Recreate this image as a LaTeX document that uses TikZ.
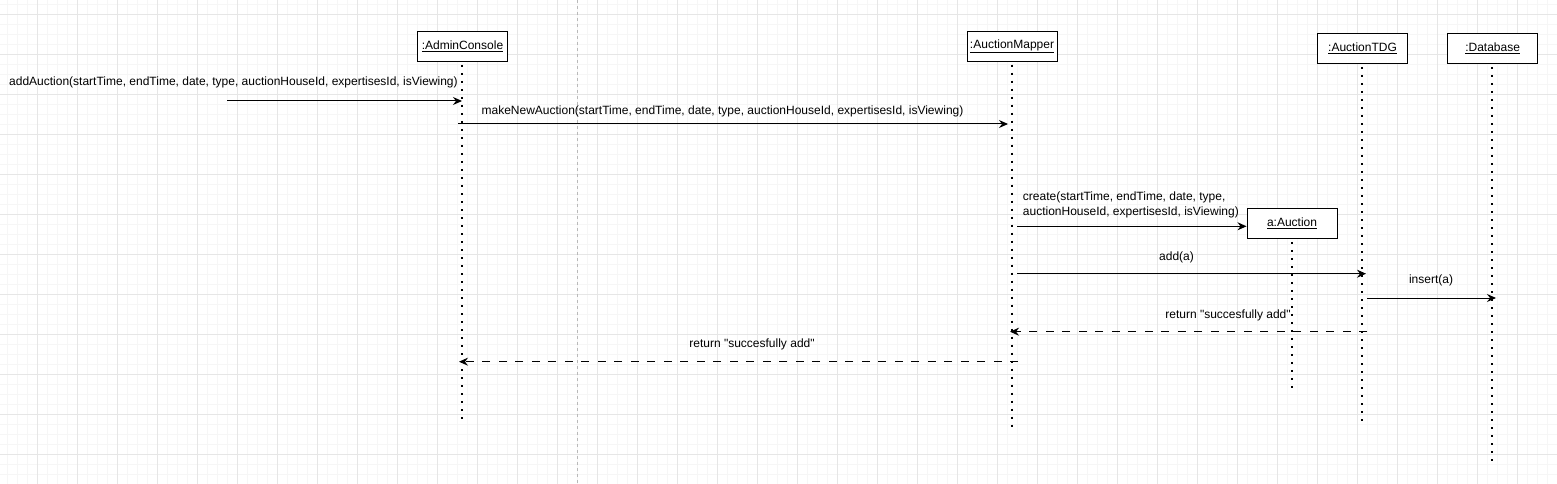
\documentclass[tikz,border=0pt]{standalone}
\usepackage{fontspec}
\setmainfont{Liberation Sans}[Ligatures=TeXOff]
\usetikzlibrary{arrows.meta}
\definecolor{gridminor}{RGB}{246,246,246}
\definecolor{gridmajor}{RGB}{230,230,230}
\begin{document}
\begin{tikzpicture}[x=1bp,y=-1bp,
  every node/.style={font=\fontsize{12bp}{15bp}\selectfont, inner sep=0pt},
  objbox/.style={draw=black, fill=white, line width=1bp, minimum width=90bp, minimum height=30bp},
  lifeline/.style={line width=2bp, dash pattern=on 2bp off 6bp},
  msg/.style={draw=black, line width=1bp, -{Stealth[length=9bp,width=8bp,inset=3bp]}},
  ret/.style={msg, dash pattern=on 8bp off 8.5bp},
  lbl/.style={text=black}
]
\useasboundingbox (0,0) rectangle (1557,484);
\fill[white] (0,0) rectangle (1557,484);
% grid
\foreach \x in {7.5,17.5,...,1557} \draw[gridminor, line width=0.8bp] (\x,0) -- (\x,484);
\foreach \y in {4.3,14.3,...,484} \draw[gridminor, line width=0.8bp] (0,\y) -- (1557,\y);
\foreach \x in {37.5,77.5,...,1557} \draw[gridmajor, line width=0.8bp] (\x,0) -- (\x,484);
\foreach \y in {14.3,54.3,...,484} \draw[gridmajor, line width=0.8bp] (0,\y) -- (1557,\y);
% page break line
\draw[gray!55, line width=0.8bp, dash pattern=on 3bp off 3bp] (577.4,0) -- (577.4,484);

% objects
\node[objbox] (admin) at (462.5,46.5) {\underline{:AdminConsole}};
\node[objbox] (mapper) at (1012,46.2) {\underline{:AuctionMapper}};
\node[objbox] (tdg) at (1362.5,48.5) {\underline{:AuctionTDG}};
\node[objbox] (db) at (1492.6,48.5) {\underline{:Database}};
\node[objbox] (auction) at (1292,223.3) {\underline{a:Auction}};

% lifeline ends
\coordinate (adminEnd) at (462.3,421);
\coordinate (mapperEnd) at (1012,431);
\coordinate (tdgEnd) at (1362,421);
\coordinate (dbEnd) at (1492,465);
\coordinate (auctionEnd) at (1292,391);
\draw[lifeline] ([yshift=-3bp]admin.south -| adminEnd) -- (adminEnd);
\draw[lifeline] ([yshift=-3bp]mapper.south -| mapperEnd) -- (mapperEnd);
\draw[lifeline] ([yshift=-3bp]tdg.south -| tdgEnd) -- (tdgEnd);
\draw[lifeline] ([yshift=-3bp]db.south -| dbEnd) -- (dbEnd);
\draw[lifeline] ([yshift=-3bp]auction.south -| auctionEnd) -- (auctionEnd);

% message endpoints
\coordinate (m1a) at (227,101);   \coordinate (m1b) at (462,101);
\coordinate (m2a) at (458,124);   \coordinate (m2b) at (1008,124);
\coordinate (m3a) at (1017,226.3);
\coordinate (m4a) at (1017,273.7); \coordinate (m4b) at (1366,273.7);
\coordinate (m5a) at (1367,298);  \coordinate (m5b) at (1496,298);
\coordinate (m6a) at (1367,331.7); \coordinate (m6b) at (1010,331.7);
\coordinate (m7a) at (1018,361.7); \coordinate (m7b) at (459,361.7);

\draw[msg] (m1a) -- (m1b);
\draw[msg] (m2a) -- (m2b);
\draw[msg] (m3a) -- (auction.west |- m3a);
\draw[msg] (m4a) -- (m4b);
\draw[msg] (m5a) -- (m5b);
\draw[ret] (m6a) -- (m6b);
\draw[ret] (m7a) -- (m7b);

% labels
\node[lbl, anchor=west] (l1) at (9,82.7) {addAuction(startTime, endTime, date, type, auctionHouseId, expertisesId, isViewing)};
\node[lbl, anchor=west] (l2) at (481.4,111.7) {makeNewAuction(startTime, endTime, date, type, auctionHouseId, expertisesId, isViewing)};
\node[lbl, anchor=west, align=left] (l3) at (1022.7,204.8) {create(startTime, endTime, date, type,\\auctionHouseId, expertisesId, isViewing)};
\node[lbl] (l4) at (1176.5,257.3) {add(a)};
\node[lbl] (l5) at (1431,280.7) {insert(a)};
\node[lbl] (l6) at (1228,315) {return "succesfully add"};
\node[lbl] (l7) at (752,344.3) {return "succesfully add"};
\end{tikzpicture}
\end{document}
